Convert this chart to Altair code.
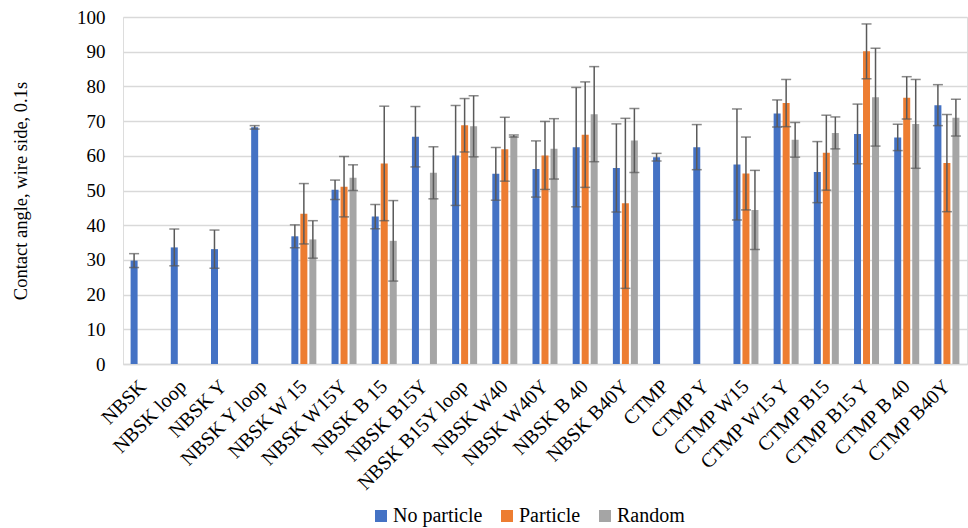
import altair as alt
import pandas as pd

categories = ["NBSK", "NBSK loop", "NBSK Y", "NBSK Y loop", "NBSK W 15", "NBSK W15Y",
              "NBSK B 15", "NBSK B15Y", "NBSK B15Y loop", "NBSK W40", "NBSK W40Y",
              "NBSK B 40", "NBSK B40Y", "CTMP", "CTMP Y", "CTMP W15", "CTMP W15 Y",
              "CTMP B15", "CTMP B15 Y", "CTMP B 40", "CTMP B40Y"]
series = ["No particle", "Particle", "Random"]
colors = ["#4472C4", "#ED7D31", "#A5A5A5"]

no_particle = [29.8, 33.6, 33.1, 68.2, 36.8, 50.2, 42.5, 65.5, 60.1, 54.8, 56.2,
               62.5, 56.5, 59.6, 62.5, 57.5, 72.2, 55.3, 66.3, 65.3, 74.6]
no_particle_err = [2.0, 5.3, 5.5, 0.5, 3.3, 2.8, 3.5, 8.7, 14.4, 7.6, 8.1,
                   17.2, 12.7, 1.1, 6.5, 16.0, 3.9, 8.8, 8.6, 3.8, 5.9]
particle = [None, None, None, None, 43.3, 51.1, 57.8, None, 68.8, 61.9, 60.1,
            66.1, 46.3, None, None, 54.9, 75.2, 60.9, 90.1, 76.7, 57.9]
particle_err = [None, None, None, None, 8.7, 8.7, 16.5, None, 7.7, 9.2, 9.8,
                15.2, 24.5, None, None, 10.5, 6.8, 10.8, 7.9, 6.1, 14.0]
random_vals = [None, None, None, None, 35.9, 53.7, 35.5, 55.1, 68.5, 65.7, 62.0,
               72.0, 64.4, None, None, 44.4, 64.6, 66.6, 76.9, 69.2, 71.0]
random_err = [None, None, None, None, 5.4, 3.7, 11.6, 7.5, 8.8, 0.3, 8.7,
              13.7, 9.2, None, None, 11.4, 5.0, 4.6, 14.1, 12.8, 5.3]
y_ticks = [0, 10, 20, 30, 40, 50, 60, 70, 80, 90, 100]

rows = []
for s, vals, errs in zip(series, [no_particle, particle, random_vals],
                         [no_particle_err, particle_err, random_err]):
    for c, v, e in zip(categories, vals, errs):
        if v is None:
            continue
        rows.append({"cat": c, "series": s, "value": v,
                     "lo": v - e, "hi": v + e})
df = pd.DataFrame(rows)

FONT = "Liberation Serif"

x_axis = alt.Axis(labelAngle=-45, labelAlign="right", labelBaseline="middle",
                  labelPadding=19, ticks=False, domainColor="#d9d9d9",
                  domainWidth=1.3, grid=False, labelOverlap=False,
                  labelFontSize=20)
y_axis = alt.Axis(values=y_ticks, ticks=False, domain=False,
                  gridColor="#d9d9d9", gridWidth=1.3, labelOverlap=False,
                  labelPadding=18, titlePadding=46, labelFontSize=19,
                  titleFontSize=18.5)
y_scale = alt.Scale(domain=[0, 100], nice=False)
x_scale = alt.Scale(paddingInner=0.378, paddingOuter=0.189)
YT = "Contact angle, wire side, 0.1s"


def xe():
    return alt.X("cat:N", sort=categories, title=None, scale=x_scale, axis=x_axis)


xoff = alt.XOffset("series:N", sort=series,
                   scale=alt.Scale(domain=series, paddingInner=0.222, paddingOuter=0))

bars = alt.Chart(df).mark_bar().encode(
    x=xe(),
    xOffset=xoff,
    y=alt.Y("value:Q", title=YT, scale=y_scale, axis=y_axis),
    color=alt.Color("series:N", sort=series,
                    scale=alt.Scale(domain=series, range=colors),
                    legend=alt.Legend(title=None, orient="none", direction="horizontal",
                                      legendX=248, legendY=489, symbolType="square",
                                      symbolSize=144, symbolStrokeWidth=0,
                                      columnPadding=14, labelOffset=2,
                                      labelFontSize=20)),
)

err = alt.Chart(df).mark_rule(color="#595959", strokeWidth=1.5).encode(
    x=xe(),
    xOffset=xoff,
    y=alt.Y("lo:Q", title=YT, scale=y_scale, axis=y_axis),
    y2="hi:Q",
)
cap_hi = alt.Chart(df).mark_tick(color="#595959", thickness=1.5, size=10).encode(
    x=xe(),
    xOffset=xoff,
    y=alt.Y("hi:Q", title=YT, scale=y_scale, axis=y_axis),
)
cap_lo = alt.Chart(df).mark_tick(color="#595959", thickness=1.5, size=10).encode(
    x=xe(),
    xOffset=xoff,
    y=alt.Y("lo:Q", title=YT, scale=y_scale, axis=y_axis),
)

chart = alt.layer(bars, err, cap_hi, cap_lo).properties(
    width=844, height=347,
    autosize=alt.AutoSizeParams(type="none"),
    padding={"left": 123, "top": 17, "right": 1, "bottom": 164},
).configure_view(stroke=None).configure(
    background="white", font=FONT
).configure_axis(
    labelFont=FONT, labelColor="#000000",
    titleFont=FONT, titleFontWeight="normal", titleColor="#000000",
).configure_legend(
    labelFont=FONT, labelColor="#000000",
)

chart.save("out.html", embed_options={"renderer": "svg", "actions": False})
